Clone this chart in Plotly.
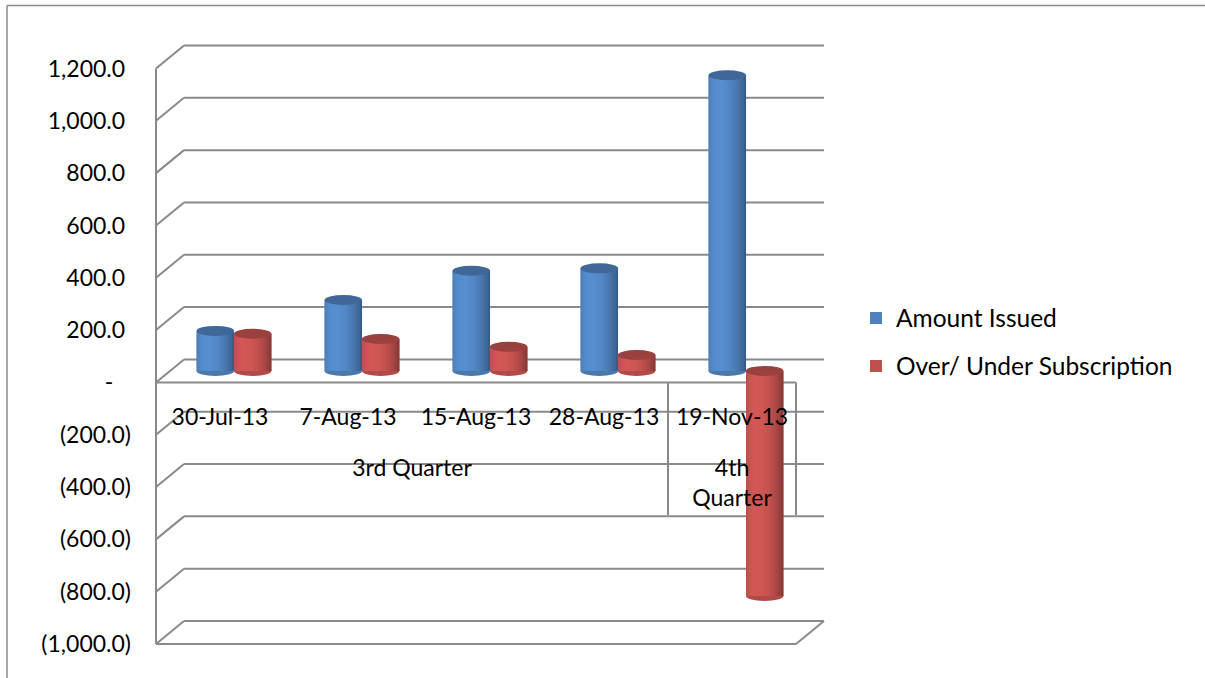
import math
import plotly.graph_objects as go

# ---------------- data ----------------
dates = ["30-Jul-13", "7-Aug-13", "15-Aug-13", "28-Aug-13", "19-Nov-13"]
quarters = ["3rd Quarter", "3rd Quarter", "3rd Quarter", "3rd Quarter", "4th<br>Quarter"]
amount_issued = [153, 271, 383, 392, 1130]
over_under = [142, 122, 92, 61, -860]
series_names = ["Amount Issued", "Over/ Under Subscription"]
y_tickvals = [1200, 1000, 800, 600, 400, 200, 0, -200, -400, -600, -800, -1000]
NB = "\u00a0"
y_ticktext = ["1,200.0" + NB, "1,000.0" + NB, "800.0" + NB, "600.0" + NB, "400.0" + NB,
              "200.0" + NB, "-" + NB * 3, "(200.0)", "(400.0)", "(600.0)", "(800.0)",
              "(1,000.0)"]

# ---------------- styling / geometry ----------------
W, H = 1205, 678
YMIN, YMAX = -1000, 1200
FRONT_X0, FRONT_X1 = 156, 796          # front plane, px
Y_TOP_PX, Y_BOT_PX = 68.5, 644          # front plane px of YMAX / YMIN
DX, DY = 28, 23                         # depth offset (back wall)
BOX_BOTTOM_PX = 515                     # bottom of the category label box
GRID = "#8a8a8a"
FONT = "Lato"
BLUE = (79, 129, 189)
RED = (192, 80, 77)
BW = 0.292                              # bar width in category units
px_per_unit = (Y_BOT_PX - Y_TOP_PX) / (YMAX - YMIN)
NCAT = len(dates)


def fx(px):
    return px / W


def fy(px):
    return 1 - px / H


def ypx(v, depth):
    return Y_TOP_PX + (YMAX - v) * px_per_unit - depth * DY


def cat_px(idx):
    # front-plane pixel x of a (fractional) category index
    return FRONT_X0 + (idx + 0.5) * (FRONT_X1 - FRONT_X0) / NCAT


def rgb(c, f=1.0):
    return "rgb(%d,%d,%d)" % tuple(max(0, min(255, round(x * f))) for x in c)


fig = go.Figure()

# mid-plane axes (bars)
mid_dom_x = [fx(FRONT_X0 + DX / 2), fx(FRONT_X1 + DX / 2)]
mid_dom_y = [fy(Y_BOT_PX - DY / 2), fy(Y_TOP_PX - DY / 2)]

series = [(amount_issued, BLUE, -BW, series_names[0], "legend"),
          (over_under, RED, 0.0, series_names[1], "legend2")]

NSTRIP = 14
for vals, col, off, name, leg in series:
    # base bar (also legend entry)
    fig.add_trace(go.Bar(x=dates, y=vals, width=[BW] * NCAT, offset=[off] * NCAT,
                         marker=dict(color=rgb(col), line=dict(width=0)),
                         name=name, legend=leg, hoverinfo="skip"))
    # cylinder shading strips
    for k in range(NSTRIP):
        t = -1 + (2 * k + 1) / NSTRIP
        theta = math.asin(t)
        lam = max(0.0, math.cos(theta + 0.45))
        f = 0.72 + 0.38 * lam
        sw = BW / NSTRIP
        fig.add_trace(go.Bar(x=dates, y=vals, width=[sw * 1.02] * NCAT,
                             offset=[off + k * sw] * NCAT,
                             marker=dict(color=rgb(col, f), line=dict(width=0)),
                             showlegend=False, hoverinfo="skip"))

fig.update_layout(barmode="overlay")

shapes = []
cap_h = 5 / px_per_unit
for vals, col, off, name, leg in series:
    for i, v in enumerate(vals):
        top, bot = max(v, 0), min(v, 0)
        # bottom bulge
        shapes.append(dict(type="circle", xref="x", yref="y", layer="between",
                           x0=i + off, x1=i + off + BW, y0=bot - cap_h, y1=bot + cap_h,
                           fillcolor=rgb(col, 0.92), line=dict(width=0)))
        # top cap
        shapes.append(dict(type="circle", xref="x", yref="y", layer="above",
                           x0=i + off, x1=i + off + BW, y0=top - cap_h, y1=top + cap_h,
                           fillcolor=rgb(col, 0.8), line=dict(width=0)))

# front-plane axes carrying the labels
fig.add_trace(go.Scatter(x=dates, y=[0] * NCAT, xaxis="x2", yaxis="y2",
                         mode="markers", marker=dict(opacity=0), showlegend=False,
                         hoverinfo="skip"))

# quarter groups (outer category level)
groups = []
for i, q in enumerate(quarters):
    if not groups or groups[-1][0] != q:
        groups.append([q, i, i])
    else:
        groups[-1][2] = i
group_centers = [(g[1] + g[2]) / 2 for g in groups]
group_labels = [g[0] for g in groups]
fig.add_trace(go.Scatter(x=group_centers, y=[0] * len(groups), xaxis="x3", yaxis="y2",
                         mode="markers", marker=dict(opacity=0), showlegend=False,
                         hoverinfo="skip"))

# dividers of the category label box
bounds = [groups[0][1] - 0.5] + [g[2] + 0.5 for g in groups]
for b in bounds:
    shapes.append(dict(type="line", xref="paper", yref="paper", layer="below",
                       x0=fx(cat_px(b)), y0=fy(ypx(0, 0)), x1=fx(cat_px(b)), y1=fy(BOX_BOTTOM_PX),
                       line=dict(color=GRID, width=2)))

# 3D frame: left wall diagonals + back wall gridlines
for v in y_tickvals:
    shapes.append(dict(type="line", xref="paper", yref="paper", layer="below",
                       x0=fx(FRONT_X0), y0=fy(ypx(v, 0)), x1=fx(FRONT_X0 + DX), y1=fy(ypx(v, 1)),
                       line=dict(color=GRID, width=2)))
    shapes.append(dict(type="line", xref="paper", yref="paper", layer="below",
                       x0=fx(FRONT_X0 + DX), y0=fy(ypx(v, 1)), x1=fx(FRONT_X1 + DX), y1=fy(ypx(v, 1)),
                       line=dict(color=GRID, width=2)))
# left front edge
shapes.append(dict(type="line", xref="paper", yref="paper", layer="below",
                   x0=fx(FRONT_X0), y0=fy(ypx(YMAX, 0)), x1=fx(FRONT_X0), y1=fy(ypx(YMIN, 0)),
                   line=dict(color=GRID, width=2)))
# floor front edge + right edge
shapes.append(dict(type="line", xref="paper", yref="paper", layer="below",
                   x0=fx(FRONT_X0), y0=fy(ypx(YMIN, 0)), x1=fx(FRONT_X1), y1=fy(ypx(YMIN, 0)),
                   line=dict(color=GRID, width=2)))
shapes.append(dict(type="line", xref="paper", yref="paper", layer="below",
                   x0=fx(FRONT_X1), y0=fy(ypx(YMIN, 0)), x1=fx(FRONT_X1 + DX), y1=fy(ypx(YMIN, 1)),
                   line=dict(color=GRID, width=2)))
# category axis front line at zero
shapes.append(dict(type="line", xref="paper", yref="paper", layer="below",
                   x0=fx(FRONT_X0), y0=fy(ypx(0, 0)), x1=fx(FRONT_X1), y1=fy(ypx(0, 0)),
                   line=dict(color=GRID, width=2)))
# chart border (top + left)
shapes.append(dict(type="line", xref="paper", yref="paper", layer="below",
                   x0=fx(7), y0=fy(5.5), x1=1, y1=fy(5.5), line=dict(color=GRID, width=1.5)))
shapes.append(dict(type="line", xref="paper", yref="paper", layer="below",
                   x0=fx(7), y0=fy(5.5), x1=fx(7), y1=0, line=dict(color=GRID, width=1.5)))

fig.update_layout(
    width=W, height=H,
    margin=dict(l=0, r=0, t=0, b=0, autoexpand=False),
    paper_bgcolor="white", plot_bgcolor="rgba(0,0,0,0)",
    font=dict(family=FONT, size=23, color="black"),
    shapes=shapes,
    xaxis=dict(domain=mid_dom_x, anchor="y", visible=False, type="category",
               range=[-0.5, NCAT - 0.5], fixedrange=True, automargin=False),
    yaxis=dict(domain=mid_dom_y, anchor="x", visible=False, range=[YMIN, YMAX],
               fixedrange=True, automargin=False),
    xaxis2=dict(domain=[fx(FRONT_X0), fx(FRONT_X1)], anchor="free",
                position=fy(ypx(0, 0)), type="category", range=[-0.5, NCAT - 0.5],
                showline=False, showgrid=False, zeroline=False, ticks="",
                ticklabelstandoff=19, tickfont=dict(family=FONT, size=23),
                fixedrange=True, automargin=False),
    xaxis3=dict(domain=[fx(FRONT_X0), fx(FRONT_X1)], anchor="free", overlaying="x2",
                position=fy(ypx(0, 0)), type="linear", range=[-0.5, NCAT - 0.5],
                tickvals=group_centers, ticktext=group_labels, side="bottom",
                showline=False, showgrid=False, zeroline=False, ticks="",
                ticklabelstandoff=70, tickfont=dict(family=FONT, size=23),
                fixedrange=True, automargin=False),
    yaxis2=dict(domain=[fy(Y_BOT_PX), fy(Y_TOP_PX)], anchor="x2", range=[YMIN, YMAX],
                tickvals=y_tickvals, ticktext=y_ticktext, showgrid=False,
                zeroline=False, showline=False, ticks="", ticklabelstandoff=24,
                tickfont=dict(family=FONT, size=23), fixedrange=True, automargin=False),
    legend=dict(x=fx(856), y=fy(318), xanchor="left", yanchor="middle",
                bgcolor="rgba(0,0,0,0)", font=dict(family=FONT, size=24.5)),
    legend2=dict(x=fx(856), y=fy(366), xanchor="left", yanchor="middle",
                 bgcolor="rgba(0,0,0,0)", font=dict(family=FONT, size=24.5)),
    showlegend=True,
)

fig.write_html("out.html")
